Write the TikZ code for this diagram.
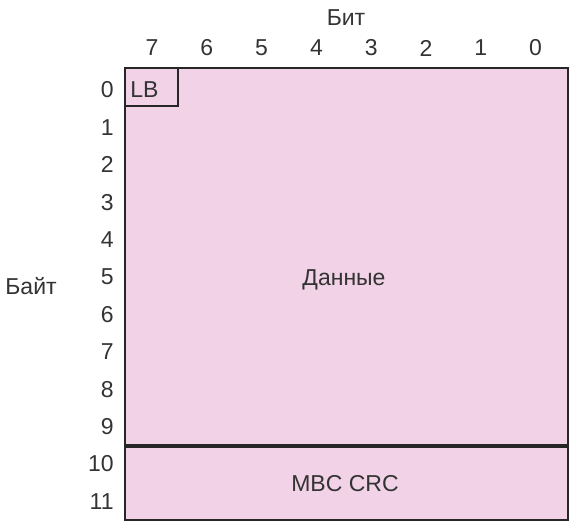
\documentclass[tikz,border=0pt]{standalone}
\usepackage{fontspec}
\setmainfont{Liberation Sans}
\usetikzlibrary{positioning}
\definecolor{framepink}{HTML}{F2D2E6}
\definecolor{inkgray}{HTML}{333333}

\begin{document}
\begin{tikzpicture}[
      x=0.5pt, y=-0.5pt,
      lbl/.style={font=\fontsize{11.5}{13}\selectfont,text=inkgray,inner sep=0pt},
      field/.style={draw=black!85,fill=framepink,line width=1pt},
    ]
    \useasboundingbox (0,0) rectangle (575,528);

    \draw[field] (125,68) rectangle (568,445);
    \draw[field] (125,447) rectangle (568,520);
    \draw[field] (125,68) rectangle (178,106);

    \node[lbl] (bit) at (346,18) {Бит};
    \foreach \b [count=\i from 0] in {7,6,5,4,3,2,1,0} {
      \node[lbl] (bit\b) at (152+54.8*\i,48) {\b};
    }

    \node[lbl,anchor=west] (byte) at (5,286) {Байт};
    \foreach \r in {0,...,11} {
      \node[lbl,anchor=east] (byte\r) at (114,90+37.4*\r) {\r};
    }

    \node[lbl,anchor=west] (lb) at (130,90) {LB};
    \node[lbl] (data) at (344,280) {Данные};
    \node[lbl] (crc) at (345,484) {MBC CRC};
  \end{tikzpicture}
\end{document}
